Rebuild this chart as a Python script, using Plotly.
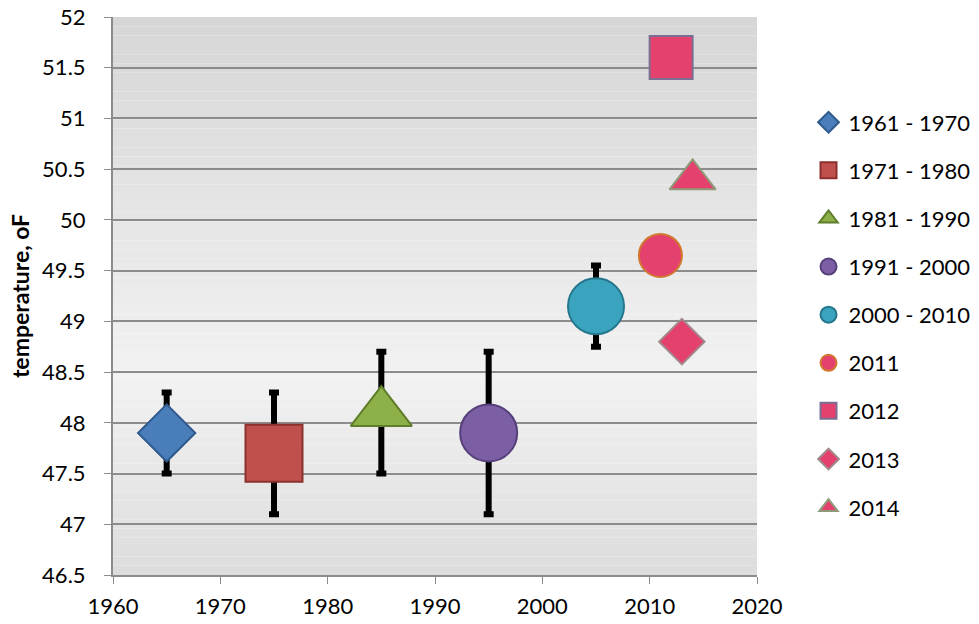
import plotly.graph_objects as go

names = ["1961 - 1970", "1971 - 1980", "1981 - 1990", "1991 - 2000", "2000 - 2010",
         "2011", "2012", "2013", "2014"]
years = [1965, 1975, 1985, 1995, 2005, 2011, 2012, 2013, 2014]
temps = [47.9, 47.7, 48.1, 47.9, 49.15, 49.65, 51.6, 48.8, 50.4]
errors = [0.4, 0.6, 0.6, 0.8, 0.4, None, None, None, None]

symbols = ["diamond", "square", "triangle-up", "circle", "circle",
           "circle", "square", "diamond", "triangle-up"]
sizes = [44, 57, 53, 57, 56, 43, 43, 35, 40]
fills = ["#4a7ebb", "#c0504d", "#8db048", "#7b5ea4", "#3aa3bd",
         "#e5416f", "#e5416f", "#e5416f", "#e5416f"]
edges = ["#2f5a8c", "#8c302d", "#5f7d2b", "#55407a", "#24768c",
         "#d2782e", "#7a6f92", "#a08a8a", "#8e9a78"]

fig = go.Figure()

# gradient plot-area background
n = 60
for i in range(n):
    t = (i + 0.5) / n
    if t < 0.65:
        v = 242 - (0.65 - t) / 0.65 * 28
    else:
        v = 242 - (t - 0.65) / 0.35 * 22
    c = int(round(v))
    fig.add_shape(type="rect", xref="x domain", yref="y domain",
                  x0=0, x1=1, y0=1 - (i + 1) / n, y1=1 - i / n,
                  fillcolor=f"rgb({c},{c},{c})", line_width=0, layer="below")

for i in range(len(names)):
    err = None
    if errors[i] is not None:
        err = dict(type="data", array=[errors[i]], visible=True,
                   color="black", thickness=6, width=5)
    fig.add_trace(go.Scatter(
        x=[years[i]], y=[temps[i]], name=names[i], mode="markers",
        legendgroup=f"g{i}",
        marker=dict(symbol=symbols[i], size=sizes[i], color=fills[i],
                    line=dict(color=edges[i], width=2)),
        error_y=err,
    ))

fig.update_layout(
    width=979, height=624,
    margin=dict(l=113, r=222, t=17, b=49, autoexpand=False),
    paper_bgcolor="white",
    plot_bgcolor="rgba(0,0,0,0)",
    font=dict(family="Lato, 'Liberation Sans', sans-serif", size=22, color="black"),
    showlegend=True,
    legend=dict(x=1.08, y=0.466, xanchor="left", yanchor="middle",
                font=dict(size=22), tracegroupgap=16.5, itemsizing="trace",
                itemwidth=30, bgcolor="rgba(0,0,0,0)"),
)
fig.update_xaxes(range=[1960, 2020], dtick=10, tick0=1960,
                 showgrid=False, zeroline=False, automargin=False,
                 showline=True, linecolor="#8c8c8c", linewidth=2,
                 ticks="outside", ticklen=7, tickcolor="#8c8c8c", tickwidth=1,
                 ticklabelstandoff=4)
fig.update_yaxes(range=[46.5, 52], dtick=0.5, tick0=46.5,
                 showgrid=True, gridcolor="#8c8c8c", gridwidth=1.5,
                 zeroline=False, automargin=False,
                 showline=True, linecolor="#8c8c8c", linewidth=2,
                 ticks="outside", ticklen=7, tickcolor="#8c8c8c", tickwidth=1,
                 ticklabelstandoff=14,
                 title=dict(text="<b>temperature, oF</b>", font=dict(size=23), standoff=6))

fig.write_html("out.html")
